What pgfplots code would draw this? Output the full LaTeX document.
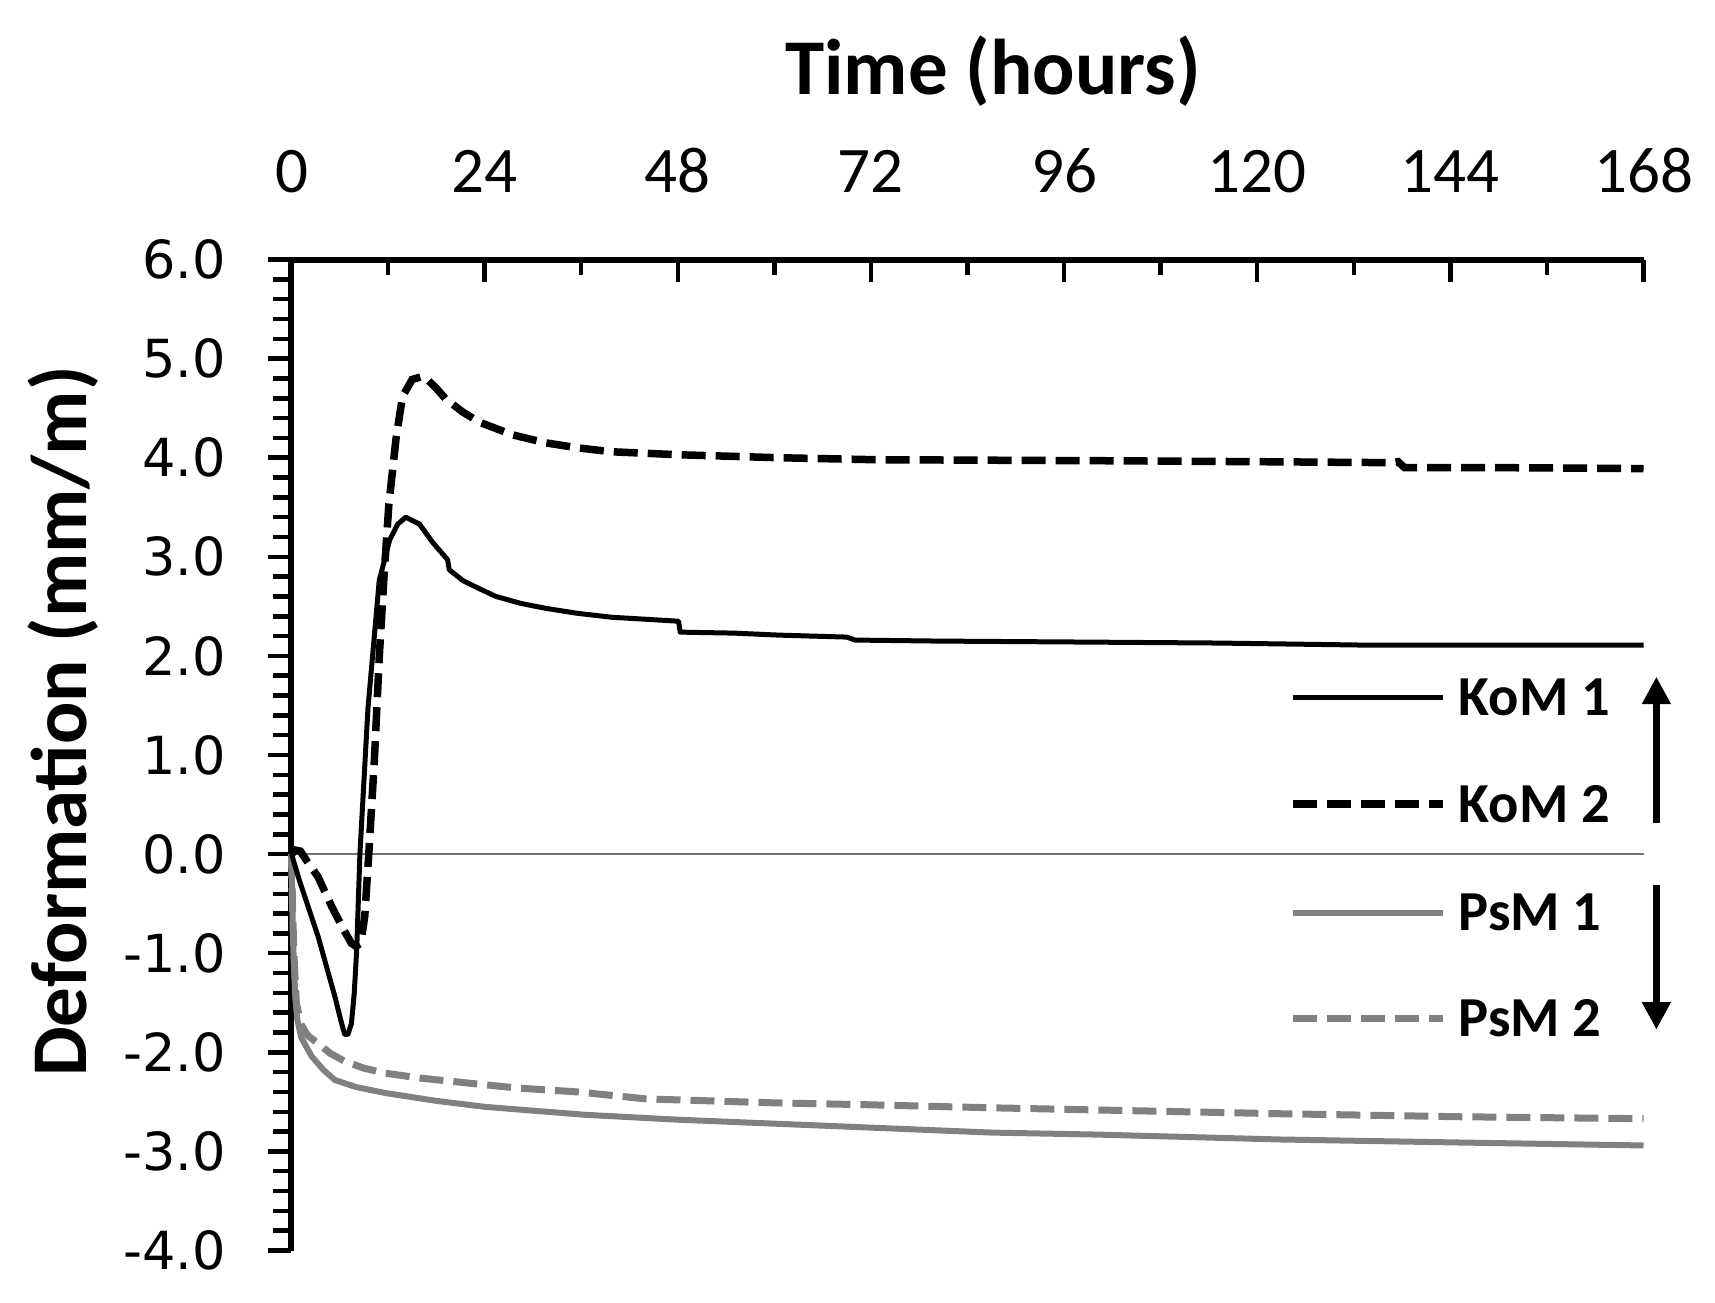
\documentclass[border=0pt]{standalone}
\usepackage{pgfplots}
\pgfplotsset{compat=1.18}
\usepackage{pgfplotstable}
\usetikzlibrary{arrows.meta}
\usepackage{fontspec}
\setmainfont{Carlito}
\newfontfamily\dejavu{DejaVu Sans}

\pgfplotstableread{
t v
0 0
1 -0.27
3.3 -0.83
5.4 -1.44
6.2 -1.70
6.6 -1.82
7.0 -1.82
7.45 -1.71
7.8 -1.40
8.1 -0.97
8.5 0.0
9.5 1.47
10.9 2.76
12.2 3.17
13.2 3.33
14.2 3.40
15.9 3.33
17.5 3.15
19.4 2.97
19.6 2.87
21.3 2.76
23.3 2.68
25.4 2.60
28.5 2.53
31.6 2.48
35.5 2.43
39.8 2.39
44 2.37
48.1 2.35
48.3 2.24
55 2.23
60.5 2.21
69 2.19
70 2.16
80 2.15
98 2.14
115 2.13
132.6 2.11
150 2.11
168 2.11
}\komone

\pgfplotstableread{
t v
0 0
0.5 0.04
1.1 0.03
2 -0.08
3.3 -0.23
5.0 -0.53
6.6 -0.78
7.45 -0.90
8.0 -0.93
8.6 -0.90
9.1 -0.63
9.6 0.0
10.3 0.95
10.9 1.98
11.5 2.81
12.1 3.53
13.0 4.20
13.8 4.62
15.0 4.79
16.3 4.82
17.0 4.78
18.0 4.70
19.2 4.59
21.3 4.46
23.3 4.36
27.5 4.23
31.6 4.15
35.5 4.10
39.8 4.06
48.1 4.03
60.5 4.00
72.5 3.98
100 3.97
120 3.96
136.8 3.95
137.5 3.96
138.3 3.90
150 3.90
168 3.89
}\komtwo

\pgfplotstableread{
t v
0 0
0.1 -0.5
0.25 -1.0
0.45 -1.4
0.7 -1.66
1.2 -1.85
2.5 -2.04
4 -2.18
5.4 -2.28
8 -2.35
11.6 -2.41
18 -2.49
24 -2.55
36.4 -2.63
48 -2.68
60 -2.72
72 -2.76
87 -2.81
100 -2.83
123 -2.88
145 -2.91
168 -2.94
}\psmone

\pgfplotstableread{
t v
0 0
0.15 -0.6
0.35 -1.1
0.6 -1.5
1.2 -1.72
2 -1.83
3.3 -1.91
4.8 -2.01
6.6 -2.09
9 -2.16
11.6 -2.21
16 -2.26
21.9 -2.31
28 -2.36
35.6 -2.40
44 -2.47
48 -2.48
60 -2.51
72 -2.53
87 -2.56
105 -2.59
123 -2.62
145 -2.65
168 -2.67
}\psmtwo

\tikzset{
  kom1/.style={black, line width=1.0pt, line join=round},
  kom2/.style={black, line width=1.5pt, dash pattern=on 4.8pt off 2pt},
  psm1/.style={black!50, line width=1.2pt, line join=round},
  psm2/.style={black!50, line width=1.4pt, dash pattern=on 4.8pt off 2pt},
  legtxt/.style={anchor=west, inner sep=0pt, font=\bfseries\fontsize{11.3}{13}\selectfont},
}

\begin{document}
\begin{tikzpicture}
\begin{axis}[
  at={(0pt,0pt)}, anchor=south west,
  scale only axis, width=270.4pt, height=198.2pt,
  xmin=0, xmax=168, ymin=-4, ymax=6,
  axis x line=none, axis y line*=left,
  axis line style={line width=1.2pt, black},
  tick style={line width=0.9pt, black},
  tick align=outside,
  major tick length=4.6pt, minor tick length=3.6pt,
  xtick=\empty,
  ytick={-4,-3,...,6},
  yticklabels={-4.0,-3.0,-2.0,-1.0,0.0,1.0,2.0,3.0,4.0,5.0,6.0},
  minor y tick num=4,
  yticklabel style={font=\dejavu\fontsize{10.5}{12}\selectfont, anchor=east, inner sep=0pt, xshift=-8.4pt},
  clip=false,
]
\addplot[black!55, line width=0.5pt] coordinates {(0,0) (168,0)};
\addplot[psm1] table[x=t,y=v] {\psmone};
\addplot[psm2] table[x=t,y=v] {\psmtwo};
\addplot[kom1] table[x=t,y=v] {\komone};
\addplot[kom2] table[x=t,y=v] {\komtwo};

% legend keys
\draw[kom1] (axis cs:124.4,1.585) -- (axis cs:143.1,1.585);
\node[legtxt] at (axis cs:144.9,1.585) {KoM 1};
\draw[kom2] (axis cs:124.4,0.505) -- (axis cs:143.1,0.505);
\node[legtxt] at (axis cs:144.9,0.505) {KoM 2};
\draw[psm1] (axis cs:124.4,-0.59) -- (axis cs:143.1,-0.59);
\node[legtxt] at (axis cs:144.9,-0.59) {PsM 1};
\draw[psm2] (axis cs:124.4,-1.66) -- (axis cs:143.1,-1.66);
\node[legtxt] at (axis cs:144.9,-1.66) {PsM 2};
% arrows
\draw[-{Triangle[length=5.5pt,width=5.5pt]}, line width=1.3pt] (axis cs:169.6,0.31) -- (axis cs:169.6,1.79);
\draw[-{Triangle[length=5.5pt,width=5.5pt]}, line width=1.3pt] (axis cs:169.6,-0.31) -- (axis cs:169.6,-1.77);
\end{axis}

\begin{axis}[
  at={(0pt,0pt)}, anchor=south west,
  scale only axis, width=270.4pt, height=198.2pt,
  xmin=0, xmax=168, ymin=-4, ymax=6,
  axis y line=none, axis x line*=top,
  axis line style={line width=1.2pt, black},
  tick style={line width=0.9pt, black},
  tick align=inside,
  major tick length=4.4pt, minor tick length=3pt,
  ytick=\empty,
  xtick={0,24,...,168},
  xticklabels={0,24,48,72,96,120,144,168},
  minor x tick num=1,
  xticklabel style={font=\fontsize{13}{15}\selectfont, anchor=base, inner sep=0pt, yshift=13.4pt},
]
\end{axis}

\node[anchor=base, inner sep=0pt, font=\bfseries\fontsize{15.8}{18}\selectfont] at (140.3pt,231.2pt) {Time (hours)};
\node[anchor=base, rotate=90, inner sep=0pt, font=\bfseries\fontsize{15.8}{18}\selectfont] at (-40.9pt,105.8pt) {Deformation (mm/m)};

\pgfresetboundingbox
\useasboundingbox (-58.3pt,-10.3pt) rectangle (284.7pt,250.1pt);
\end{tikzpicture}
\end{document}
